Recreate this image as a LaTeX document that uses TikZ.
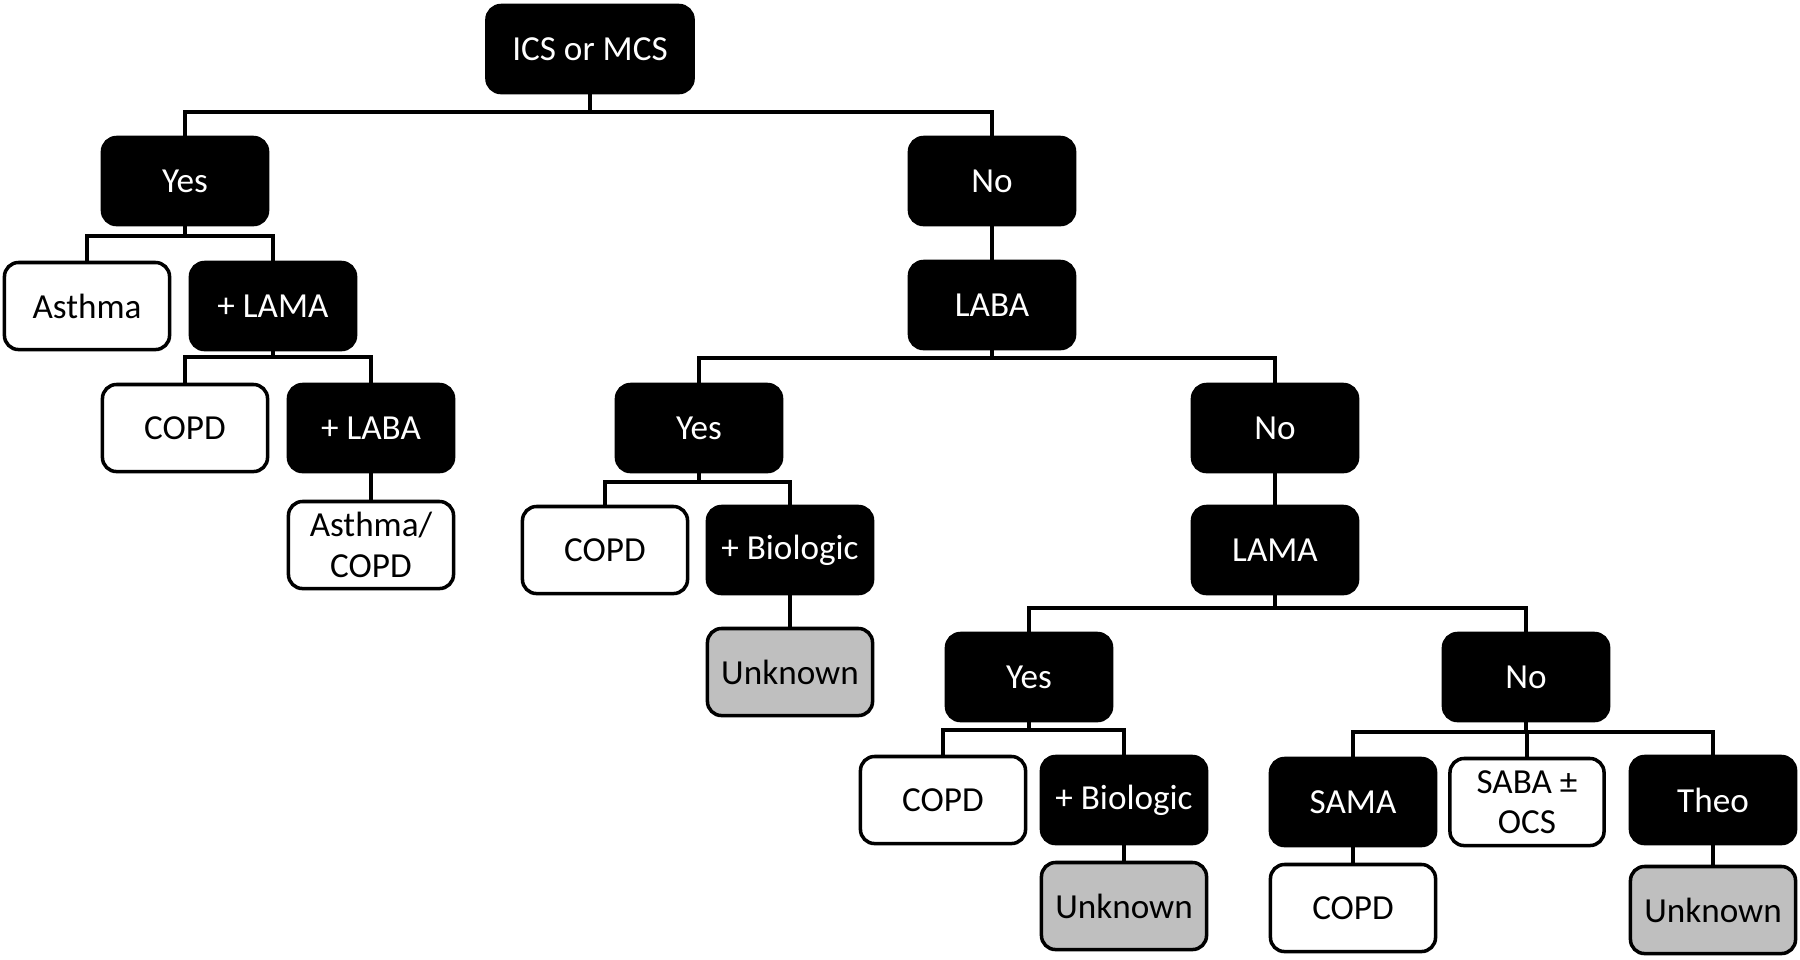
\documentclass[tikz,border=0pt]{standalone}
\usepackage{fontspec}
\setmainfont{Carlito}
\usetikzlibrary{positioning}
\definecolor{ink}{HTML}{000000}
\definecolor{unkgray}{HTML}{BFBFBF}
\tikzset{box/.style={draw=ink, line width=1pt, rounded corners=4pt, minimum width=1.65cm, minimum height=0.87cm,
                     align=center, inner sep=2pt, font=\fontsize{10}{11.5}\selectfont},
         dark/.style={box, fill=ink, text=white},
         open/.style={box, fill=white, text=ink},
         unk/.style={box, fill=unkgray, text=ink},
         wire/.style={ink, line width=0.9pt}}

\begin{document}
\begin{tikzpicture}[x=0.01cm, y=-0.01cm]
  \useasboundingbox (0,0) rectangle (1800,959);
  % level 0-1
  \node[dark, minimum width=2.06cm] (ics) at (590,49) {ICS or MCS};
  \node[dark] (yesA) at (185,181) {Yes};
  \node[dark] (noA) at (992,181) {No};
  % ICS yes branch
  \node[open] (asthma) at (87,306) {Asthma};
  \node[dark] (lamaA) at (273,306) {+ LAMA};
  \node[open] (copdA) at (185,428) {COPD};
  \node[dark] (labaA) at (371,428) {+ LABA};
  \node[open] (ascopd) at (371,545) {Asthma/\\COPD};
  % LABA
  \node[dark] (laba) at (992,305) {LABA};
  \node[dark] (yesB) at (699,428) {Yes};
  \node[dark] (noB) at (1275,428) {No};
  \node[open] (copdB) at (605,550) {COPD};
  \node[dark] (bioB) at (790,550) {+ Biologic};
  \node[unk] (unkB) at (790,672) {Unknown};
  % LAMA
  \node[dark] (lama) at (1275,550) {LAMA};
  \node[dark] (yesC) at (1029,677) {Yes};
  \node[dark] (noC) at (1526,677) {No};
  \node[open] (copdC) at (943,800) {COPD};
  \node[dark] (bioC) at (1124,800) {+ Biologic};
  \node[unk] (unkC) at (1124,906) {Unknown};
  \node[dark] (sama) at (1353,802) {SAMA};
  \node[open, minimum width=1.54cm] (saba) at (1527,802) {SABA ±\\OCS};
  \node[dark] (theo) at (1713,800) {Theo};
  \node[open] (copdD) at (1353,908) {COPD};
  \node[unk] (unkD) at (1713,910) {Unknown};
  % elbow connectors: parent/child/bar height
  \foreach \pa/\ch/\by in {ics/yesA/112, ics/noA/112, yesA/asthma/236, yesA/lamaA/236,
      lamaA/copdA/357, lamaA/labaA/357, labaA/ascopd/487, noA/laba/243,
      laba/yesB/358, laba/noB/358, yesB/copdB/482, yesB/bioB/482, bioB/unkB/611, noB/lama/489,
      lama/yesC/608, lama/noC/608, yesC/copdC/730, yesC/bioC/730, bioC/unkC/853,
      noC/sama/732, noC/saba/732, noC/theo/732, sama/copdD/855, theo/unkD/855}{
    \draw[wire] (\pa.south) |- (\ch.north |- 0,\by) -- (\ch.north);}
\end{tikzpicture}
\end{document}
